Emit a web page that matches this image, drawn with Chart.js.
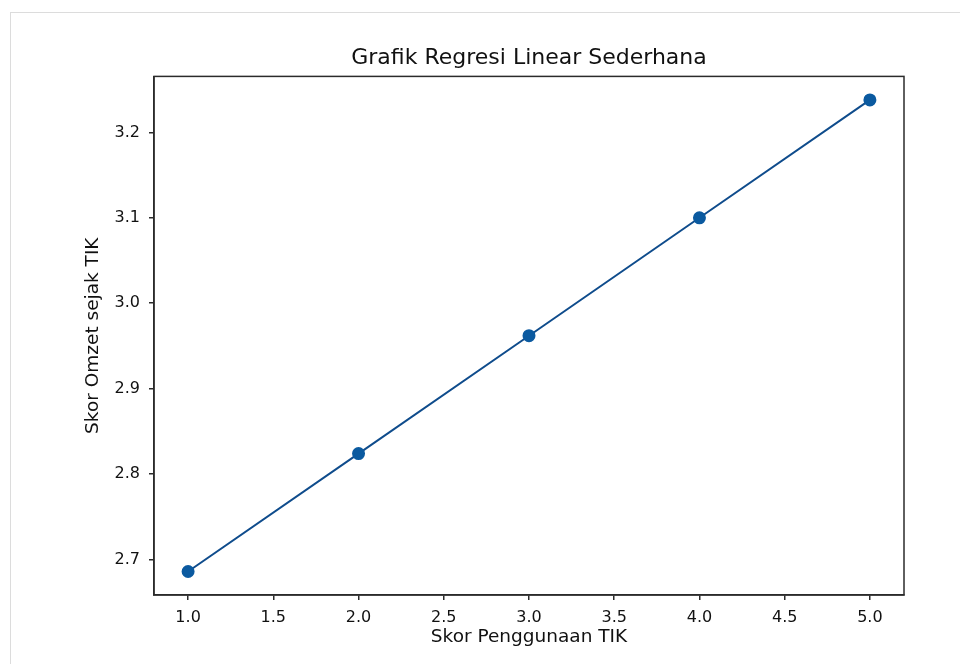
<!DOCTYPE html>
<html>
<head>
<meta charset="utf-8">
<script src="https://cdn.jsdelivr.net/npm/chart.js@4"></script>
<style>
  body { margin: 0; background: #fff; overflow: hidden; }
  #frame { position: absolute; left: 10px; top: 12px; width: 1000px; height: 700px; border: 1px solid #dcdcdc; }
  #wrap { position: absolute; left: 0; top: 0; width: 960px; height: 664px; }
</style>
</head>
<body>
<div id="frame"></div>
<div id="wrap"><canvas id="regChart" width="960" height="664"></canvas></div>
<script>
// data
const skorTIK = [1, 2, 3, 4, 5];
const skorOmzet = [2.686, 2.824, 2.962, 3.100, 3.238];
const xTicks = [1.0, 1.5, 2.0, 2.5, 3.0, 3.5, 4.0, 4.5, 5.0];
const yTicks = [2.7, 2.8, 2.9, 3.0, 3.1, 3.2];

const fontFamily = '"DejaVu Sans", sans-serif';

// bingkai kotak area plot (seperti matplotlib)
const framePlugin = {
    id: 'frameBox',
    afterDraw(chart) {
        const a = chart.chartArea;
        const ctx = chart.ctx;
        ctx.save();
        ctx.strokeStyle = '#2b2b2b';
        ctx.lineWidth = 1.5;
        ctx.strokeRect(a.left, a.top, a.right - a.left, a.bottom - a.top);
        ctx.restore();
    }
};

const ctx = document.getElementById('regChart').getContext('2d');
new Chart(ctx, {
    type: 'line',
    data: {
        datasets: [{
            data: skorTIK.map((x, i) => ({ x: x, y: skorOmzet[i] })),
            borderColor: '#0f4c8c',
            borderWidth: 2,
            pointBackgroundColor: '#0b5aa0',
            pointBorderColor: '#0b5aa0',
            pointRadius: 5.5,
            fill: false,
            tension: 0
        }]
    },
    options: {
        responsive: false,
        animation: false,
        layout: { padding: { left: 0, right: 56, top: 0, bottom: 0 } },
        plugins: {
            legend: { display: false },
            tooltip: { enabled: false },
            title: {
                display: true,
                text: 'Grafik Regresi Linear Sederhana',
                fullSize: false,
                color: '#111',
                font: { family: fontFamily, size: 22, weight: 'normal' },
                padding: { top: 45, bottom: 5 }
            }
        },
        scales: {
            x: {
                type: 'linear',
                min: 0.8,
                max: 5.2,
                afterBuildTicks: (s) => { s.ticks = xTicks.map(v => ({ value: v })); },
                afterFit: (s) => { s.height = 69; },
                grid: { drawOnChartArea: false, drawTicks: true, tickLength: 5, color: '#2b2b2b', lineWidth: 1.5 },
                border: { display: true, color: '#2b2b2b', width: 1.5 },
                ticks: {
                    color: '#111',
                    padding: 8,
                    maxRotation: 0,
                    font: { family: fontFamily, size: 16 },
                    callback: (v) => Number(v).toFixed(1)
                },
                title: {
                    display: true,
                    text: 'Skor Penggunaan TIK',
                    color: '#111',
                    font: { family: fontFamily, size: 18.5 },
                    padding: { top: 0, bottom: 16 }
                }
            },
            y: {
                type: 'linear',
                min: 2.6585,
                max: 3.2655,
                afterBuildTicks: (s) => { s.ticks = yTicks.map(v => ({ value: v })); },
                afterFit: (s) => { s.width = 154; },
                grid: { drawOnChartArea: false, drawTicks: true, tickLength: 5, color: '#2b2b2b', lineWidth: 1.5 },
                border: { display: true, color: '#2b2b2b', width: 1.5 },
                ticks: {
                    color: '#111',
                    padding: 9,
                    font: { family: fontFamily, size: 16 },
                    callback: (v) => Number(v).toFixed(1)
                },
                title: {
                    display: true,
                    text: 'Skor Omzet sejak TIK',
                    color: '#111',
                    font: { family: fontFamily, size: 18.5 },
                    padding: { top: 82, bottom: 0 }
                }
            }
        }
    },
    plugins: [framePlugin]
});
</script>
</body>
</html>
